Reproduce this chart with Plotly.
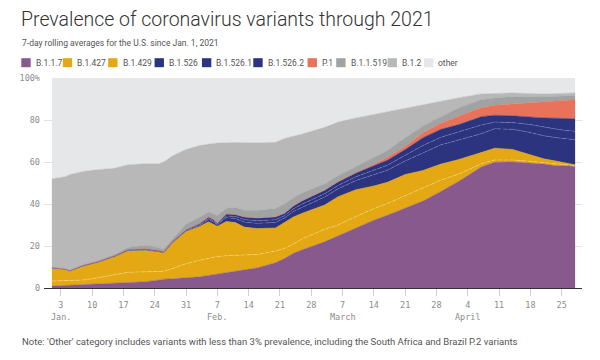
import plotly.graph_objects as go

# ---------------- data ----------------
dates = ["2021-01-01", "2021-01-04", "2021-01-05", "2021-01-08", "2021-01-11", "2021-01-15",
         "2021-01-18", "2021-01-22", "2021-01-25", "2021-01-26", "2021-01-28", "2021-01-31",
         "2021-02-03", "2021-02-05", "2021-02-06", "2021-02-07", "2021-02-09", "2021-02-11",
         "2021-02-13", "2021-02-16", "2021-02-20", "2021-02-22", "2021-02-24", "2021-02-26",
         "2021-03-03", "2021-03-06", "2021-03-10", "2021-03-14", "2021-03-17", "2021-03-21",
         "2021-03-25", "2021-03-29", "2021-04-02", "2021-04-07", "2021-04-10", "2021-04-14",
         "2021-04-18", "2021-04-21", "2021-04-24", "2021-04-26", "2021-04-28"]

b117 = [0.9, 1.2, 1.2, 1.5, 1.7, 2.1, 2.4, 3.0, 3.8, 4.2, 4.4, 4.8, 5.3, 6.0, 6.3, 6.6, 7.3, 7.9, 8.6, 9.6,
        12.0, 14.0, 16.5, 18.2, 22.0, 24.8, 28.6, 32.3, 34.6, 38.0, 41.4, 46.0, 50.8, 57.6, 59.9, 60.0,
        59.6, 59.0, 58.1, 58.2, 57.9]
b1427 = [2.4, 2.2, 2.2, 2.3, 3.1, 4.4, 5.1, 4.7, 4.0, 3.8, 4.9, 6.8, 7.9, 8.2, 8.3, 8.4, 8.1, 7.7, 6.9, 6.4,
         5.6, 4.8, 4.5, 5.2, 6.0, 5.2, 5.4, 5.5, 5.6, 6.0, 6.3, 5.4, 3.5, 1.6, 1.1, 1.0, 0.7, 0.7, 0.9, 0.5, 0.4]
b1429 = [6.0, 5.3, 4.5, 6.5, 7.1, 8.3, 10.1, 10.2, 9.2, 8.6, 12.1, 15.3, 16.1, 17.3, 15.9, 14.4, 16.3, 15.6,
         13.5, 12.3, 11.0, 12.2, 12.8, 12.2, 11.5, 13.5, 12.8, 10.8, 10.1, 10.0, 8.3, 7.6, 6.9, 5.3, 5.6, 5.0,
         3.0, 1.8, 1.3, 0.7, 0.4]
b1526 = [0.2, 0.2, 0.2, 0.2, 0.2, 0.2, 0.3, 0.3, 0.3, 0.3, 0.4, 0.4, 0.6, 1.1, 1.1, 0.8, 1.8, 1.9, 2.4, 2.5,
         2.6, 2.3, 2.6, 2.9, 3.8, 3.8, 4.4, 5.2, 5.8, 6.5, 8.5, 9.2, 9.3, 9.0, 9.2, 9.6, 10.7, 11.0, 11.2,
         11.5, 11.9]
b15261 = [0.1, 0.1, 0.1, 0.1, 0.1, 0.2, 0.2, 0.3, 0.2, 0.2, 0.2, 0.3, 0.4, 0.6, 0.6, 0.4, 0.8, 1.0, 1.2, 1.2,
          1.3, 1.1, 1.3, 1.5, 1.6, 1.5, 1.8, 2.1, 2.3, 2.7, 3.4, 3.6, 3.8, 4.1, 3.2, 3.2, 3.8, 4.1, 4.1, 4.1, 4.0]
b15262 = [0.1, 0.1, 0.1, 0.2, 0.2, 0.2, 0.2, 0.2, 0.3, 0.2, 0.3, 0.2, 0.4, 0.6, 0.6, 0.4, 0.9, 0.9, 1.2, 1.3,
          1.3, 1.1, 1.3, 1.5, 1.6, 1.7, 1.8, 2.3, 2.4, 2.7, 3.7, 3.8, 3.5, 4.0, 3.3, 3.2, 3.5, 4.4, 5.2, 5.7, 6.0]
p1 = [0, 0, 0, 0, 0, 0, 0, 0, 0, 0, 0, 0, 0, 0, 0, 0, 0, 0, 0, 0,
      0.1, 0.1, 0.1, 0.1, 0.1, 0.2, 0.2, 0.6, 1.5, 1.5, 2.4, 2.8, 4.0, 4.2, 4.7, 5.6, 6.9, 7.6, 8.2, 8.6, 9.1]
b11519 = [0.3, 0.3, 0.3, 0.4, 0.5, 0.6, 1.0, 1.7, 1.4, 1.2, 1.2, 2.7, 3.0, 2.4, 2.7, 3.5, 2.8, 3.4, 3.2, 3.7,
          3.9, 4.4, 3.9, 3.7, 3.0, 2.8, 2.9, 3.6, 3.2, 4.1, 3.2, 3.2, 4.0, 3.9, 3.5, 3.6, 2.8, 2.4, 2.3, 2.2, 2.0]
b12 = [42.0, 43.6, 45.4, 44.3, 43.4, 41.0, 39.4, 38.8, 40.0, 41.5, 39.5, 35.5, 34.1, 32.4, 33.3, 34.5, 31.2,
       30.9, 32.2, 32.1, 31.6, 31.2, 29.3, 28.0, 26.9, 25.5, 23.1, 20.3, 18.5, 14.2, 10.2, 7.4, 4.8, 2.7, 2.2,
       1.7, 1.6, 1.4, 1.3, 1.3, 1.2]
other = [48.0, 47.0, 46.0, 44.5, 43.7, 43.0, 41.3, 40.8, 40.8, 40.0, 37.0, 34.0, 32.2, 31.4, 31.2, 31.0, 30.8,
         30.7, 30.8, 30.9, 30.6, 28.8, 27.7, 26.7, 23.5, 21.0, 19.0, 17.3, 16.0, 14.3, 12.6, 11.0, 9.4, 7.6,
         7.3, 7.1, 7.4, 7.6, 7.4, 7.2, 7.1]

series_names = ["B.1.1.7", "B.1.427", "B.1.429", "B.1.526", "B.1.526.1", "B.1.526.2",
                "P.1", "B.1.1.519", "B.1.2", "other"]
series_values = [b117, b1427, b1429, b1526, b15261, b15262, p1, b11519, b12, other]

tick_dates = ["2021-01-03", "2021-01-10", "2021-01-17", "2021-01-24", "2021-01-31",
              "2021-02-07", "2021-02-14", "2021-02-21", "2021-02-28",
              "2021-03-07", "2021-03-14", "2021-03-21", "2021-03-28",
              "2021-04-04", "2021-04-11", "2021-04-18", "2021-04-25"]
tick_days = ["3", "10", "17", "24", "31", "7", "14", "21", "28", "7", "14", "21", "28", "4", "11", "18", "25"]
month_dates = ["2021-01-03", "2021-02-07", "2021-03-07", "2021-04-04"]
month_labels = ["Jan.", "Feb.", "March", "April"]

y_tickvals = [0, 20, 40, 60, 80, 100]
y_ticktext = ["0", "20", "40", "60", "80", "100%"]

title_text = "Prevalence of coronavirus variants through 2021"
subtitle_text = "7-day rolling averages for the U.S. since Jan. 1, 2021"
note_text = "Note: 'Other' category includes variants with less than 3% prevalence, including the South Africa and Brazil P.2 variants"

# ---------------- styles ----------------
PURPLE = "#87598d"
GOLD = "#e3a813"
NAVY = "#2c3480"
CORAL = "#e8725a"
DGRAY = "#a1a2a2"
LGRAY = "#b8b8b8"
OTHER = "#e6e7e9"
fill_colors = [PURPLE, GOLD, GOLD, NAVY, NAVY, NAVY, CORAL, DGRAY, LGRAY, OTHER]
line_styles = [
    dict(color=PURPLE, width=0.5),
    dict(color="rgba(255,236,180,0.45)", width=0.8, dash="4px,2px"),
    dict(color=GOLD, width=0.5),
    dict(color="rgba(140,150,210,0.5)", width=0.8, dash="4px,2px"),
    dict(color="rgba(140,150,210,0.5)", width=0.8, dash="4px,2px"),
    dict(color=NAVY, width=0.5),
    dict(color=CORAL, width=0.5),
    dict(color=DGRAY, width=0.5),
    dict(color=LGRAY, width=0.5),
    dict(color=OTHER, width=0.5),
]
legend_x = [14, 56, 102, 149, 197, 249, 304, 333, 385, 422]   # screen x of legend squares

# page body has an 8px offset: screen coordinate = figure coordinate + 8
OFF = 8
W, H = 592, 352
PLOT_L, PLOT_R, PLOT_T, PLOT_B = 37, 582, 78.3, 288.3      # screen coordinates
ML = PLOT_L - OFF
MT = PLOT_T - OFF
PW = PLOT_R - PLOT_L
PH = PLOT_B - PLOT_T
MR = W - ML - PW
MB = H - MT - PH


def px(x):
    return (x - PLOT_L) / PW


def py(y):
    return (PLOT_B - y) / PH


fig = go.Figure()
for name, vals, fc, ls in zip(series_names, series_values, fill_colors, line_styles):
    fig.add_trace(go.Scatter(
        x=dates, y=vals, name=name, mode="lines", stackgroup="one",
        fillcolor=fc, line=ls, showlegend=False, hoverinfo="skip",
    ))

MONO = "DejaVu Sans Mono"
SANS = "Roboto"
AX_FONT = dict(family=MONO, size=8.5, color="#8c8c8c")

fig.update_layout(
    width=W, height=H,
    margin=dict(l=ML, r=MR, t=MT, b=MB, pad=0),
    paper_bgcolor="white", plot_bgcolor="white",
    showlegend=False,
    xaxis=dict(
        range=["2020-12-30 05:37", "2021-04-29 13:00"],
        tickvals=tick_dates, ticktext=tick_days,
        showgrid=False, zeroline=False,
        showline=True, linecolor="#333333", linewidth=1,
        ticks="outside", ticklen=7, tickcolor="#d0d0d0", tickwidth=1,
        ticklabelstandoff=2,
        tickfont=AX_FONT,
        fixedrange=True,
    ),
    yaxis=dict(
        range=[0, 100],
        tickvals=y_tickvals, ticktext=y_ticktext,
        showgrid=True, gridcolor="#e2e2e2", gridwidth=1,
        zeroline=False, showline=False, ticks="",
        ticklabelstandoff=3,
        tickfont=AX_FONT,
        fixedrange=True,
    ),
)

annotations = [
    dict(text=title_text, x=px(12), y=py(20), xref="paper", yref="paper",
         xanchor="left", yanchor="middle", showarrow=False,
         font=dict(family=SANS, size=19.5, color="#333333", weight=300)),
    dict(text=subtitle_text, x=px(13), y=py(43.5), xref="paper", yref="paper",
         xanchor="left", yanchor="middle", showarrow=False,
         font=dict(family=SANS, size=8.5, color="#555555")),
    dict(text=note_text, x=px(13), y=py(341.5), xref="paper", yref="paper",
         xanchor="left", yanchor="middle", showarrow=False,
         font=dict(family=SANS, size=9.5, color="#555555")),
]
for md, ml in zip(month_dates, month_labels):
    annotations.append(dict(text=ml, x=md, y=py(317), xref="x", yref="paper",
                            xanchor="center", yanchor="middle", showarrow=False,
                            font=AX_FONT))
shapes = []
for name, fc, lx in zip(series_names, fill_colors, legend_x):
    shapes.append(dict(type="rect", xref="paper", yref="paper",
                       x0=px(lx), x1=px(lx + 9.5), y0=py(58.5), y1=py(67.5),
                       fillcolor=fc, line=dict(width=0)))
    annotations.append(dict(text=name, x=px(lx + 12.5), y=py(63), xref="paper", yref="paper",
                            xanchor="left", yanchor="middle", showarrow=False,
                            font=dict(family=SANS, size=8.5, color="#555555")))

fig.update_layout(annotations=annotations, shapes=shapes)
fig.write_html("out.html")
